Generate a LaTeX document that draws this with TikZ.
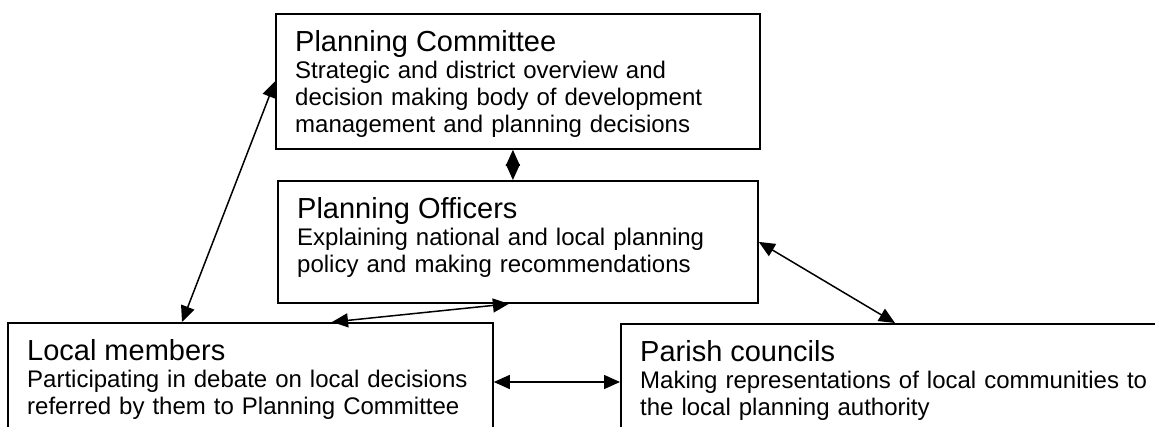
\documentclass[tikz,border=0pt]{standalone}
\usepackage{fontspec}
\setmainfont{Liberation Sans}
\usetikzlibrary{arrows.meta}

\tikzset{
  box/.style={draw, line width=1.8pt, anchor=north west, inner sep=0pt},
  boxtext/.style={anchor=base west, inner sep=0pt, text width=#1, align=left,
    font=\fontsize{24}{27}\selectfont},
  link/.style={{Triangle[length=16pt,width=14pt]}-{Triangle[length=16pt,width=14pt]}, line width=1.5pt}
}
\newcommand{\boxtitle}[1]{{\fontsize{29}{33}\selectfont #1}}

\begin{document}
\begin{tikzpicture}[x=1pt, y=-1pt]
    \useasboundingbox (0,0) rectangle (1155,426);

    % Caixas
    \node[box, minimum width=484pt, minimum height=135pt] (pc) at (275,13) {};
    \node[box, minimum width=480pt, minimum height=122pt] (po) at (277,180) {};
    \node[box, minimum width=485pt, minimum height=140pt] (lm) at (7,322) {};
    \node[box, minimum width=600pt, minimum height=140pt] (parish) at (620,323) {};

    % Textos
    \node[boxtext=460pt] (pctext) at ([xshift=20pt, yshift=-38pt]pc.north west)
        {\boxtitle{Planning Committee}\\Strategic and district overview and\\decision making body of development\\management and planning decisions};
    \node[boxtext=460pt] (potext) at ([xshift=20pt, yshift=-38pt]po.north west)
        {\boxtitle{Planning Officers}\\Explaining national and local planning\\policy and making recommendations};
    \node[boxtext=470pt] (lmtext) at ([xshift=20pt, yshift=-38pt]lm.north west)
        {\boxtitle{Local members}\\Participating in debate on local decisions\\referred by them to Planning Committee};
    \node[boxtext=560pt] (parishtext) at ([xshift=20pt, yshift=-38pt]parish.north west)
        {\boxtitle{Parish councils}\\Making representations of local communities to\\the local planning authority};

    % Ligacoes
    \draw[link] ([xshift=-5pt]pc.south) -- ([xshift=-5pt]po.north);
    \draw[link] ([xshift=175pt]lm.north west) -- (pc.west);
    \draw[link] ([xshift=-9pt]po.south) -- ([xshift=325pt]lm.north west);
    \draw[link] (po.east) -- ([xshift=275pt]parish.north west);
    \draw[link] ([yshift=-60pt]lm.north east) -- ([yshift=-59pt]parish.north west);
\end{tikzpicture}
\end{document}
